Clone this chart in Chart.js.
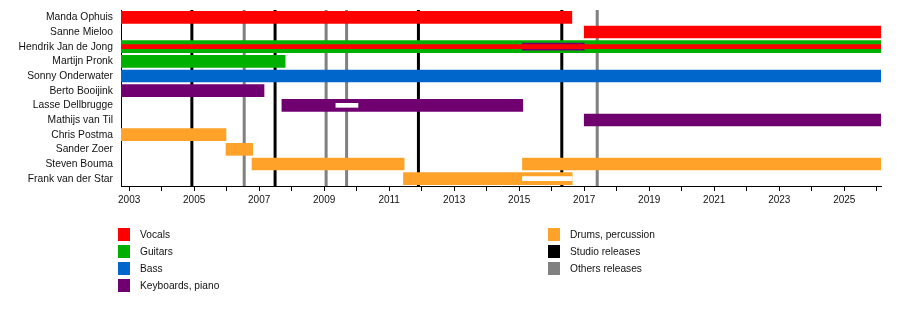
<!DOCTYPE html>
<html>
<head>
<meta charset="utf-8">
<script src="https://cdn.jsdelivr.net/npm/chart.js@4/dist/chart.umd.min.js"></script>
<style>
    body { margin: 0; background: #fff; }
    #wrap { position: relative; width: 900px; height: 336px; }
    #legend div { position: absolute; font: 10.2px "Liberation Sans", Arial, sans-serif; color: #111; line-height: 13px; }
    #legend span { position: absolute; left: 0; top: 0; width: 12px; height: 13px; }
    #legend b { position: absolute; left: 22px; top: 0; font-weight: normal; white-space: nowrap; }
</style>
</head>
<body>
<div id="wrap">
    <canvas id="timeline" width="900" height="336"></canvas>
    <div id="legend"></div>
</div>
<script>
var members = ['Manda Ophuis', 'Sanne Mieloo', 'Hendrik Jan de Jong', 'Martijn Pronk', 'Sonny Onderwater',
    'Berto Booijink', 'Lasse Dellbrugge', 'Mathijs van Til', 'Chris Postma', 'Sander Zoer',
    'Steven Bouma', 'Frank van der Star'];

var periodStart = 2002.75;
var periodEnd = 2026.13;
var tickYears = [2003, 2004, 2005, 2006, 2007, 2008, 2009, 2010, 2011, 2012, 2013, 2014,
    2015, 2016, 2017, 2018, 2019, 2020, 2021, 2022, 2023, 2024, 2025, 2026];

// [member, from, to]
var vocals = [['Manda Ophuis', periodStart, 2016.62], ['Sanne Mieloo', 2017.0, periodEnd]];
var guitars = [['Hendrik Jan de Jong', periodStart, periodEnd], ['Martijn Pronk', periodStart, 2007.80]];
var bass = [['Sonny Onderwater', periodStart, periodEnd]];
var keyboards = [['Berto Booijink', periodStart, 2007.15], ['Lasse Dellbrugge', 2007.70, 2015.11],
    ['Mathijs van Til', 2017.0, periodEnd]];
var drums = [['Chris Postma', periodStart, 2005.98], ['Sander Zoer', 2005.98, 2006.80],
    ['Steven Bouma', 2006.78, 2011.46], ['Steven Bouma', 2015.10, periodEnd],
    ['Frank van der Star', 2011.44, 2016.63]];

// second roles, drawn as thinner bars inside the main ones
var keyboardsSecond = [['Hendrik Jan de Jong', 2015.10, 2017.0]];
var vocalsSecond = [['Hendrik Jan de Jong', periodStart, periodEnd]];
var blankSecond = [['Lasse Dellbrugge', 2009.36, 2010.04], ['Frank van der Star', 2015.10, 2016.63]];

var studioReleases = [2004.93, 2007.49, 2011.90, 2016.31];
var otherReleases = [2006.54, 2009.06, 2009.69, 2017.40];

var legendLabels = ['Vocals', 'Guitars', 'Bass', 'Keyboards, piano', 'Drums, percussion', 'Studio releases', 'Others releases'];
var legendColors = ['#ff0000', '#00b000', '#0066cc', '#700070', '#ffa22a', '#000000', '#808080'];

var colors = {
    vocals: '#ff0000', guitars: '#00b000', bass: '#0066cc', keyboards: '#700070',
    drums: '#ffa22a', studio: '#000000', other: '#808080'
};

function spans(list) {
    return list.map(function (s) { return { x: [s[1], s[2]], y: s[0] }; });
}

function barSet(list, color, thickness, order) {
    return {
        data: spans(list),
        backgroundColor: color,
        borderWidth: 0,
        barThickness: thickness,
        grouped: false,
        order: order
    };
}

// release markers sit behind the bars
var releaseLines = {
    id: 'releaseLines',
    beforeDatasetsDraw: function (chart) {
        var ctx = chart.ctx, area = chart.chartArea, xs = chart.scales.x;
        function draw(years, color) {
            ctx.save();
            ctx.strokeStyle = color;
            ctx.lineWidth = 3;
            years.forEach(function (yr) {
                var px = xs.getPixelForValue(yr);
                ctx.beginPath();
                ctx.moveTo(px, area.top);
                ctx.lineTo(px, area.bottom);
                ctx.stroke();
            });
            ctx.restore();
        }
        draw(otherReleases, colors.other);
        draw(studioReleases, colors.studio);
    }
};

var fontFamily = '"Liberation Sans", Arial, sans-serif';

new Chart(document.getElementById('timeline'), {
    type: 'bar',
    data: {
        labels: members,
        datasets: [
            barSet(blankSecond, '#ffffff', 4, 0),
            barSet(vocalsSecond, colors.vocals, 4, 1),
            barSet(keyboardsSecond, colors.keyboards, 7, 2),
            barSet(vocals, colors.vocals, 12, 3),
            barSet(guitars, colors.guitars, 12, 3),
            barSet(bass, colors.bass, 12, 3),
            barSet(keyboards, colors.keyboards, 12, 3),
            barSet(drums, colors.drums, 12, 3)
        ]
    },
    options: {
        indexAxis: 'y',
        responsive: false,
        animation: false,
        devicePixelRatio: 1,
        layout: { padding: { top: 10, right: 19, left: 0, bottom: 0 } },
        plugins: { legend: { display: false }, tooltip: { enabled: false } },
        scales: {
            x: {
                type: 'linear',
                min: periodStart,
                max: periodEnd,
                afterBuildTicks: function (scale) {
                    scale.ticks = tickYears.map(function (v) { return { value: v }; });
                },
                afterFit: function (scale) { scale.height = 150; },
                ticks: {
                    autoSkip: false,
                    maxRotation: 0,
                    padding: 3,
                    color: '#111',
                    font: { family: fontFamily, size: 10 },
                    callback: function (v) { return v % 2 === 1 ? String(v) : ''; }
                },
                grid: { drawOnChartArea: false, drawTicks: true, tickLength: 5, color: '#000' },
                border: { display: true, color: '#000', width: 1 }
            },
            y: {
                afterFit: function (scale) {
                    scale.width = 121;
                    scale.paddingTop = 0;
                    scale.paddingBottom = 0;
                },
                ticks: { padding: 8, color: '#111', font: { family: fontFamily, size: 10.3 }, autoSkip: false },
                grid: { drawOnChartArea: false, drawTicks: false },
                border: { display: true, color: '#000', width: 1 }
            }
        }
    },
    plugins: [releaseLines]
});

// two column legend under the chart
var legend = document.getElementById('legend');
legendLabels.forEach(function (label, i) {
    var col = i < 4 ? 0 : 1;
    var row = i < 4 ? i : i - 4;
    var item = document.createElement('div');
    item.style.left = (col === 0 ? 118 : 548) + 'px';
    item.style.top = (228 + row * 17) + 'px';
    var sw = document.createElement('span');
    sw.style.background = legendColors[i];
    var txt = document.createElement('b');
    txt.textContent = label;
    item.appendChild(sw);
    item.appendChild(txt);
    legend.appendChild(item);
});
</script>
</body>
</html>
